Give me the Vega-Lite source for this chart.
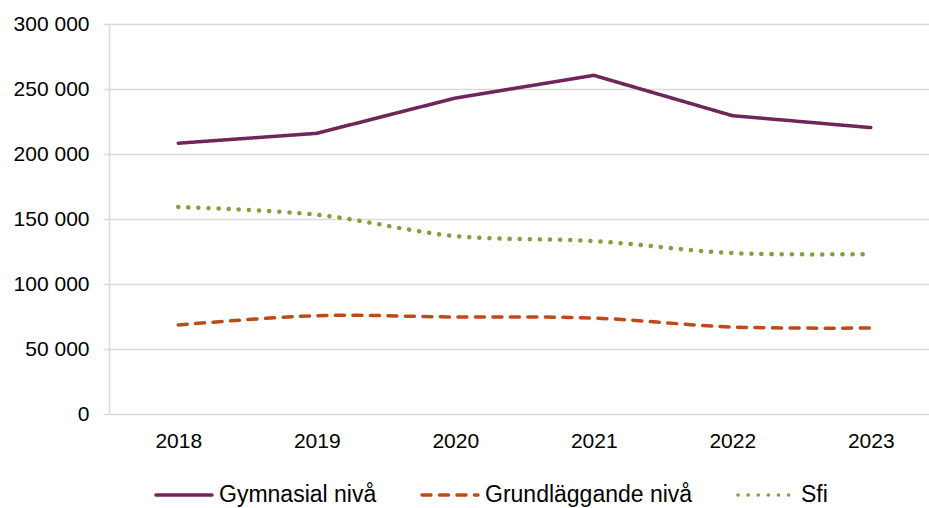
{
  "$schema": "https://vega.github.io/schema/vega-lite/v6.json",
  "width": 831,
  "height": 390,
  "autosize": {"type": "none"},
  "padding": {"left": 109, "top": 24, "right": 0, "bottom": 94},
  "background": "white",
  "config": {
    "font": "Liberation Sans",
    "view": {"stroke": null},
    "axis": {"labelFont": "Liberation Sans", "labelFontSize": 21, "labelColor": "#000000"}
  },
  "data": {
    "values": [
      {"year": "2018", "series": "Gymnasial nivå", "value": 208300},
      {"year": "2019", "series": "Gymnasial nivå", "value": 215900},
      {"year": "2020", "series": "Gymnasial nivå", "value": 243000},
      {"year": "2021", "series": "Gymnasial nivå", "value": 260500},
      {"year": "2022", "series": "Gymnasial nivå", "value": 229500},
      {"year": "2023", "series": "Gymnasial nivå", "value": 220300},
      {"year": "2018", "series": "Grundläggande nivå", "value": 68500},
      {"year": "2019", "series": "Grundläggande nivå", "value": 75600},
      {"year": "2020", "series": "Grundläggande nivå", "value": 74600},
      {"year": "2021", "series": "Grundläggande nivå", "value": 73800},
      {"year": "2022", "series": "Grundläggande nivå", "value": 66900},
      {"year": "2023", "series": "Grundläggande nivå", "value": 66150},
      {"year": "2018", "series": "Sfi", "value": 159200},
      {"year": "2019", "series": "Sfi", "value": 153300},
      {"year": "2020", "series": "Sfi", "value": 136900},
      {"year": "2021", "series": "Sfi", "value": 133000},
      {"year": "2022", "series": "Sfi", "value": 123800},
      {"year": "2023", "series": "Sfi", "value": 123000}
    ]
  },
  "encoding": {
    "x": {
      "field": "year", "type": "ordinal",
      "scale": {"type": "point", "padding": 0.5},
      "axis": {"title": null, "labelAngle": 0, "domain": false, "ticks": false, "grid": false, "labelPadding": 16}
    },
    "y": {
      "field": "value", "type": "quantitative",
      "scale": {"domain": [0, 300000], "nice": false},
      "axis": {
        "title": null,
        "values": [0, 50000, 100000, 150000, 200000, 250000, 300000],
        "labelExpr": "replace(format(datum.value, ','), ',', ' ')",
        "domain": true, "domainColor": "#D9D9D9", "domainWidth": 1.5,
        "ticks": true, "tickColor": "#D9D9D9", "tickSize": 6, "tickWidth": 1.5,
        "grid": true, "gridColor": "#D9D9D9", "gridWidth": 1.5,
        "labelPadding": 14
      }
    },
    "color": {
      "field": "series", "type": "nominal",
      "scale": {"domain": ["Gymnasial nivå", "Grundläggande nivå", "Sfi"], "range": ["#70265B", "#BE4A1C", "#7DA23B"]},
      "legend": {
        "title": null, "orient": "none", "direction": "horizontal",
        "legendX": 45, "legendY": 441,
        "symbolType": "stroke", "symbolSize": 3136, "symbolStrokeWidth": 3.5,
        "labelFontSize": 23, "labelColor": "#000000", "labelFont": "Liberation Sans",
        "labelOffset": 5, "columnPadding": 38, "labelLimit": 400,
        "encode": {"symbols": {"update": {"strokeCap": {"value": "round"}}}}
      }
    },
    "strokeDash": {
      "field": "series", "type": "nominal",
      "scale": {"domain": ["Gymnasial nivå", "Grundläggande nivå", "Sfi"], "range": [[1, 0], [9, 8.5], [0.1, 10]]},
      "legend": null
    }
  },
  "layer": [
    {
      "transform": [{"filter": "datum.series === 'Gymnasial nivå'"}],
      "mark": {"type": "line", "strokeWidth": 3.5, "interpolate": "linear", "strokeCap": "round"}
    },
    {
      "transform": [{"filter": "datum.series === 'Grundläggande nivå'"}],
      "mark": {"type": "line", "strokeWidth": 3.5, "interpolate": "catmull-rom", "strokeCap": "round"}
    },
    {
      "transform": [{"filter": "datum.series === 'Sfi'"}],
      "mark": {"type": "line", "strokeWidth": 4.5, "interpolate": "catmull-rom", "strokeCap": "round"}
    }
  ]
}
